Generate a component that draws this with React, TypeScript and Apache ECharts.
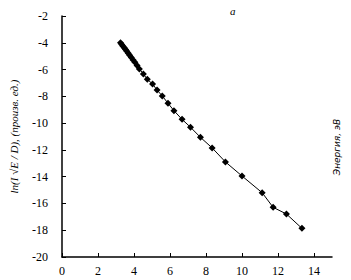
import React, { useEffect, useRef } from "react";
import * as echarts from "echarts";

const energy = [3.25, 3.32, 3.39, 3.46, 3.53, 3.6, 3.68, 3.76, 3.85, 3.95, 4.05, 4.17, 4.3, 4.52, 4.74, 5.03, 5.28, 5.57, 5.89, 6.22, 6.67, 7.14, 7.69, 8.34, 9.08, 10.0, 11.12, 11.73, 12.47, 13.33];
const lnValues = [-4.0, -4.12, -4.25, -4.38, -4.5, -4.63, -4.78, -4.93, -5.1, -5.28, -5.46, -5.7, -5.95, -6.33, -6.73, -7.08, -7.53, -7.97, -8.52, -9.07, -9.72, -10.31, -11.06, -11.85, -12.9, -13.95, -15.2, -16.29, -16.79, -17.86];
const xTicks = [0, 2, 4, 6, 8, 10, 12, 14];
const yTicks = [-2, -4, -6, -8, -10, -12, -14, -16, -18, -20];

export default function App() {
  const ref = useRef<HTMLDivElement>(null);
  useEffect(() => {
    if (!ref.current) return;
    const chart = echarts.init(ref.current, null, { renderer: "svg" });
    const font = "Liberation Serif";
    chart.setOption({
      animation: false,
      backgroundColor: "#fff",
      grid: { left: 56, top: 16, right: 19, bottom: 23 },
      title: {
        text: "a",
        left: 225,
        top: 0,
        textStyle: { fontFamily: font, fontStyle: "italic", fontWeight: "normal", fontSize: 11, color: "#000" },
      },
      graphic: [
        {
          type: "text",
          x: 337,
          y: 147,
          rotation: Math.PI / 2,
          style: {
            text: "Энергия, эВ",
            fontFamily: "DejaVu Sans",
            fontStyle: "italic",
            fontSize: 9,
            fill: "#000",
            align: "center",
            verticalAlign: "middle",
          },
        },
      ],
      xAxis: {
        type: "value",
        min: 0,
        max: 15,
        interval: 2,
        splitLine: { show: false },
        axisLine: { lineStyle: { color: "#000", width: 1.5 } },
        axisTick: { inside: true, length: 4, lineStyle: { color: "#000" }, customValues: xTicks },
        axisLabel: { customValues: xTicks, color: "#000", fontFamily: font, fontSize: 12, margin: 8 },
      },
      yAxis: {
        type: "value",
        min: -20,
        max: -2,
        interval: 2,
        name: "ln(I √E / D), (произв. ед.)",
        nameLocation: "middle",
        nameRotate: 90,
        nameGap: 43,
        nameTextStyle: { fontFamily: font, fontStyle: "italic", fontSize: 11, color: "#000" },
        splitLine: { show: false },
        axisLine: { show: true, lineStyle: { color: "#000", width: 1.5 } },
        axisTick: { show: true, inside: true, length: 4, lineStyle: { color: "#000" }, customValues: yTicks },
        axisLabel: { customValues: yTicks, color: "#000", fontFamily: font, fontSize: 12, margin: 14 },
      },
      series: [
        {
          type: "line",
          data: energy.map((e, i) => [e, lnValues[i]]),
          symbol: "diamond",
          symbolSize: 7,
          itemStyle: { color: "#000" },
          lineStyle: { color: "#000", width: 1 },
        },
      ],
    });
    return () => chart.dispose();
  }, []);
  return <div ref={ref} style={{ width: 351, height: 280, position: "absolute", left: 0, top: 0 }} />;
}
